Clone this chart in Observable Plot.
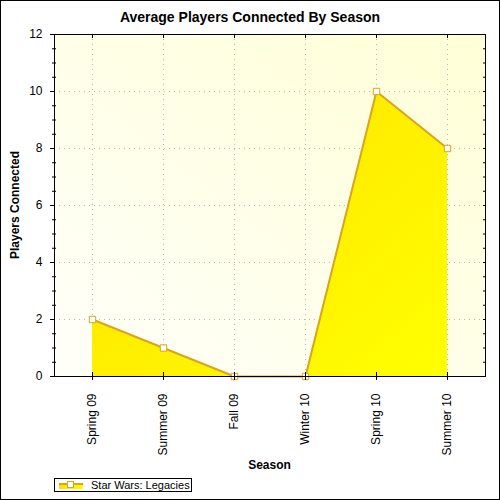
<!DOCTYPE html>
<html>
<head>
<meta charset="utf-8">
<script src="https://cdn.jsdelivr.net/npm/d3@7"></script>
<script src="https://cdn.jsdelivr.net/npm/@observablehq/plot@0.6"></script>
<style>
  html, body { margin: 0; padding: 0; background: #fff; }
  #root { position: relative; width: 500px; height: 500px; overflow: hidden; font-family: "Liberation Sans", Arial, sans-serif; }
  #border { position: absolute; left: 0; top: 0; width: 500px; height: 500px; box-sizing: border-box; border: 1px solid #000; pointer-events: none; }
  #title { position: absolute; left: 0; width: 500px; top: 8px; text-align: center; font-weight: bold; font-size: 14px; line-height: 18px; color: #000; }
  #chart { position: absolute; left: 0; top: 26px; }
  #xlabel { position: absolute; left: 54px; width: 431px; top: 457px; text-align: center; font-weight: bold; font-size: 12px; line-height: 16px; }
  #ylabel { position: absolute; left: 15px; top: 205px; width: 0; height: 0; }
  #ylabel span { position: absolute; left: 0; top: 0; transform: translate(-50%, -50%) rotate(-90deg); white-space: nowrap; font-weight: bold; font-size: 12px; line-height: 16px; }
  #legend { position: absolute; left: 54px; top: 478px; width: 138px; height: 14px; box-sizing: border-box; border: 1px solid #000; background: #fff; display: flex; align-items: center; }
  #legend svg { margin-left: 3px; }
  #legend span { margin-left: 7px; font-size: 11px; line-height: 12px; }
</style>
</head>
<body>
<div id="root">
  <div id="title"></div>
  <div id="chart"></div>
  <div id="xlabel"></div>
  <div id="ylabel"><span></span></div>
  <div id="legend"></div>
  <div id="border"></div>
</div>
<script>
const titleText = "Average Players Connected By Season";
const xTitle = "Season";
const yTitle = "Players Connected";
const seriesName = "Star Wars: Legacies";
const seasons = ["Spring 09", "Summer 09", "Fall 09", "Winter 10", "Spring 10", "Summer 10"];
const players = [2, 1, 0, 0, 10, 8];
const yTicks = [0, 2, 4, 6, 8, 10, 12];
const yGridTicks = [2, 4, 6, 8, 10];
const yMinorTicks = [0.5, 1, 1.5, 2.5, 3, 3.5, 4.5, 5, 5.5, 6.5, 7, 7.5, 8.5, 9, 9.5, 10.5, 11, 11.5];
const yAllTicks = [0, 0.5, 1, 1.5, 2, 2.5, 3, 3.5, 4, 4.5, 5, 5.5, 6, 6.5, 7, 7.5, 8, 8.5, 9, 9.5, 10, 10.5, 11, 11.5, 12];

const lineColor = "#d9a41e";
const data = seasons.map((s, i) => ({season: s, players: players[i]}));

document.getElementById("title").textContent = titleText;
document.getElementById("xlabel").textContent = xTitle;
document.querySelector("#ylabel span").textContent = yTitle;

const chart = Plot.plot({
  width: 500,
  height: 450,
  marginTop: 8,
  marginBottom: 100,
  marginLeft: 54,
  marginRight: 15,
  style: {fontFamily: "'Liberation Sans', Arial, sans-serif", fontSize: "12px", background: "transparent", color: "#000", overflow: "visible"},
  x: {type: "point", domain: seasons, padding: 0.5},
  y: {domain: [0, 12]},
  marks: [
    Plot.frame({fill: "url(#bgGrad)", stroke: null}),
    Plot.gridX(seasons, {stroke: "#b8b8b8", strokeOpacity: 1, strokeDasharray: "1,4"}),
    Plot.gridY(yGridTicks, {stroke: "#b8b8b8", strokeOpacity: 1, strokeDasharray: "1,4"}),
    Plot.areaY(data, {x: "season", y: "players", fill: "url(#areaGrad)", curve: "linear"}),
    Plot.lineY(data, {x: "season", y: "players", stroke: lineColor, strokeWidth: 2, curve: "linear"}),
    Plot.dot(data, {x: "season", y: "players", symbol: "square", r: 3.6, fill: "#fff", stroke: lineColor, strokeWidth: 1}),
    Plot.axisY({ticks: yTicks, tickSize: 4, tickPadding: 8, tickFormat: d => String(d), label: null, stroke: "#000"}),
    Plot.axisY({ticks: yMinorTicks, tickSize: 2, text: null, label: null}),
    Plot.axisY({ticks: yMinorTicks, tickSize: -2, text: null, label: null}),
    Plot.axisY({anchor: "right", ticks: yAllTicks, tickSize: -3, text: null, label: null}),
    Plot.axisX({ticks: seasons, tickSize: 4, tickPadding: 13, tickRotate: -90, label: null}),
    Plot.axisX({ticks: seasons, tickSize: -4, text: null, label: null}),
    Plot.axisX({anchor: "top", ticks: seasons, tickSize: -3, text: null, label: null}),
    Plot.frame({stroke: "#000", strokeWidth: 1})
  ]
});

chart.insertAdjacentHTML("afterbegin", `
<defs>
  <linearGradient id="bgGrad" x1="0" y1="1" x2="1" y2="0">
    <stop offset="0" stop-color="#fffffa"/>
    <stop offset="1" stop-color="#ffffd6"/>
  </linearGradient>
  <linearGradient id="areaGrad" x1="0" y1="0" x2="1" y2="1">
    <stop offset="0" stop-color="#ffdf00"/>
    <stop offset="1" stop-color="#ffff00"/>
  </linearGradient>
</defs>`);
document.getElementById("chart").appendChild(chart);

// legend
const legend = document.getElementById("legend");
legend.innerHTML = `<svg width="26" height="10" viewBox="0 0 26 10">
  <defs><linearGradient id="lgGrad" x1="0" x2="1"><stop offset="0" stop-color="#ffdf00"/><stop offset="1" stop-color="#ffff00"/></linearGradient></defs>
  <rect x="1" y="3" width="24" height="6" fill="url(#lgGrad)"/>
  <line x1="1" x2="25" y1="4" y2="4" stroke="${lineColor}" stroke-width="2"/>
  <rect x="9.5" y="1.5" width="6" height="6" fill="#fff" stroke="${lineColor}"/>
</svg><span></span>`;
legend.querySelector("span").textContent = seriesName;
</script>
</body>
</html>
